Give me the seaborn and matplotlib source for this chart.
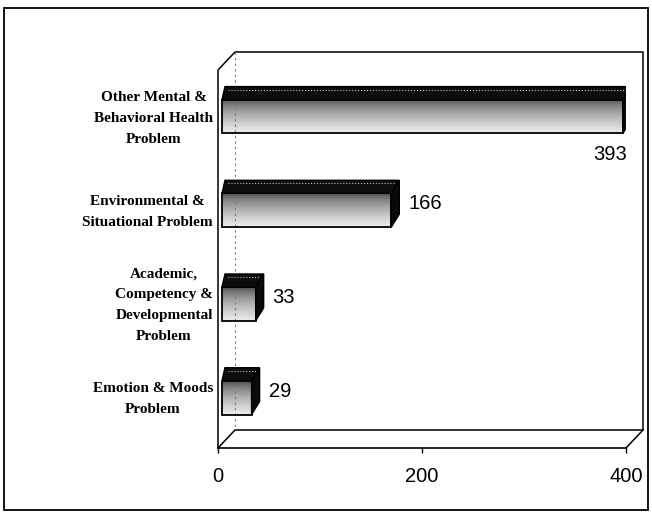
import numpy as np
import pandas as pd
import seaborn as sns
import matplotlib.pyplot as plt
from matplotlib.patches import Polygon, Rectangle

# data
categories = ['Other Mental &\nBehavioral Health\nProblem',
              'Environmental &\nSituational Problem',
              'Academic,\nCompetency &\nDevelopmental\nProblem',
              'Emotion & Moods\nProblem']
counts = [393, 166, 33, 29]
x_ticks = [0, 200, 400]

sns.set_theme(style='white')
plt.rcParams['font.family'] = ['Liberation Sans', 'DejaVu Sans']

fig = plt.figure(figsize=(6.52, 5.13), dpi=100)
ax = fig.add_axes([218 / 652, 65 / 513, 408 / 652, 396 / 513])

df = pd.DataFrame({'problem': categories, 'count': counts})
sns.barplot(data=df, x='count', y='problem', orient='h', width=0.5,
            color='white', ax=ax)
ax.set_xlim(0, 400)
ax.set_ylim(3.607, -0.619)
ax.set_autoscale_on(False)

# fake 3D look for the bars (pixel sizes)
DX, DY, SHIFT = 8, 13, 4
inv = ax.transData.inverted()


def to_data(pts):
    return inv.transform(np.array(pts, dtype=float))


bars = list(ax.patches)
for patch, v in zip(bars, counts):
    x0, y0 = patch.get_x(), patch.get_y()
    w, h = patch.get_width(), patch.get_height()
    X0, Ya = ax.transData.transform((x0, y0))
    X1, Yb = ax.transData.transform((x0 + w, y0 + h))
    B, T = min(Ya, Yb), max(Ya, Yb)
    X0 += SHIFT
    X1 += SHIFT
    patch.set_visible(False)

    # front face gradient
    (xl, yb), (xr, yt) = to_data([(X0, B), (X1, T - DY)])
    t = np.linspace(0, 1, 64)[:, None]
    grad = 0.25 + 0.68 * t ** 0.6
    ax.imshow(np.repeat(grad, 2, axis=1), cmap='gray', vmin=0, vmax=1,
              extent=(xl, xr, yb, yt), aspect='auto', origin='upper',
              interpolation='bilinear', zorder=2)
    ax.add_patch(Polygon(to_data([(X0, B), (X1, B), (X1, T - DY), (X0, T - DY)]),
                         closed=True, fill=False, edgecolor='black', lw=1.3, zorder=3))
    # top face
    ax.add_patch(Polygon(to_data([(X0, T - DY), (X0 + 3, T), (X1 + DX, T), (X1, T - DY)]),
                         closed=True, facecolor='#0d0d0d', edgecolor='black', lw=1, zorder=3))
    ax.plot(*to_data([(X0 + 6, T - 3), (X1 + DX - 4, T - 3)]).T, color='#bdbdbd',
            ls=':', lw=0.8, zorder=4)
    # side face
    ax.add_patch(Polygon(to_data([(X1, B), (X1, T - DY), (X1 + DX, T), (X1 + DX, B + DY)]),
                         closed=True, facecolor='#0a0a0a', edgecolor='black', lw=1, zorder=3))

# value labels
for i, v in enumerate(counts):
    if v > 300:
        ax.annotate(str(v), xy=(v, i), xytext=(8, -44), textcoords='offset pixels',
                    ha='right', va='center', fontsize=14.5, color='black')
    else:
        ax.annotate(str(v), xy=(v, i), xytext=(21, 0), textcoords='offset pixels',
                    ha='left', va='center', fontsize=14.5, color='black')

# category labels (drawn as text so the line spacing can be set)
for i, cat in enumerate(categories):
    ax.annotate(cat, xy=(0, i), xycoords=ax.get_yaxis_transform(),
                xytext=(-5, -8), textcoords='offset pixels',
                ha='right', va='center', multialignment='center', linespacing=1.8,
                fontfamily='Liberation Serif', fontweight='bold', fontsize=11,
                color='black', annotation_clip=False)

# 3D frame (back wall and floor), given in pixels of the figure
def frame(xs, ys, **kw):
    ax.plot([(x - 218) / 408 for x in xs], [(448 - y) / 396 for y in ys],
            transform=ax.transAxes, clip_on=False, **kw)


frame([218, 218, 235, 643, 643, 626], [448, 70, 52, 52, 430, 448], color='black', lw=1.1)
frame([218, 235, 643], [448, 430, 430], color='black', lw=1.1)
frame([235, 235], [52, 430], color='#777777', lw=0.8, ls=(0, (2, 3)))

for s in ['left', 'top', 'right']:
    ax.spines[s].set_visible(False)
ax.spines['bottom'].set_color('black')
ax.spines['bottom'].set_linewidth(1.2)

ax.set_xticks(x_ticks)
ax.set_xticklabels([str(t) for t in x_ticks])
ax.tick_params(axis='x', bottom=True, length=3.6, width=1, pad=10,
               labelsize=14.5, color='black', labelcolor='black')
ax.set_yticks(range(len(categories)))
ax.tick_params(axis='y', left=False, length=0, labelleft=False)
ax.set_xlabel('')
ax.set_ylabel('')
ax.set_facecolor('none')

# outer border
fig.add_artist(Rectangle((4 / 652, 3 / 513), 644 / 652, 502 / 513, transform=fig.transFigure,
                         fill=False, edgecolor='black', lw=1.3))

fig.savefig('out.png', dpi=100)
